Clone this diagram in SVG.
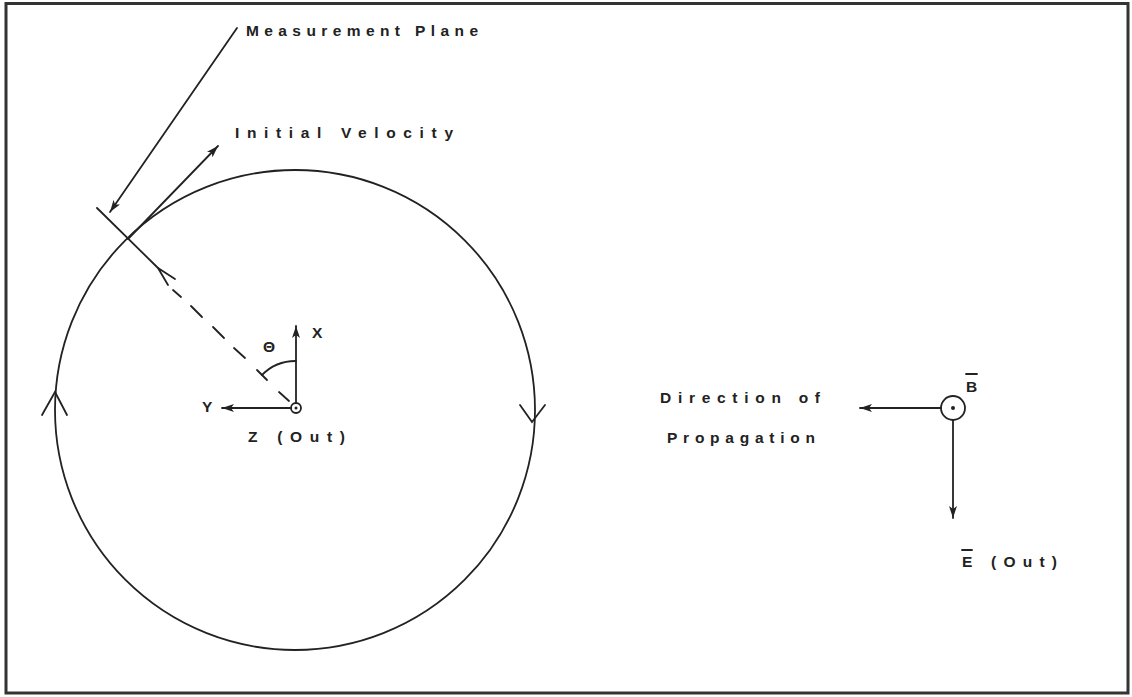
<svg xmlns="http://www.w3.org/2000/svg" width="1132" height="697" viewBox="0 0 1132 697">
<style>
.ln{stroke:#222;stroke-width:1.8;fill:none;stroke-linecap:round}
.t{font-family:"Liberation Sans",Arial,sans-serif;font-size:15.5px;font-weight:bold;fill:#222}
</style>
<defs>
<marker id="ah" viewBox="0 0 12 8" refX="12" refY="4" markerWidth="12" markerHeight="8" markerUnits="userSpaceOnUse" orient="auto">
<path d="M0,0 L12,4 L0,8 L3,4 Z" fill="#222"/>
</marker>
</defs>
<rect x="0" y="0" width="1132" height="697" fill="#fff"/>
<rect x="6" y="3.5" width="1122" height="689.5" fill="none" stroke="#333" stroke-width="3"/>

<g id="orbit">
<circle cx="295" cy="410" r="240" class="ln" stroke-width="2.2"/>
<path class="ln" d="M42,415 L55,392 L67,415"/>
<path class="ln" d="M520,405 L532,422 L545,405"/>
</g>

<g id="measurement-plane">
<line class="ln" x1="97" y1="208" x2="158" y2="268"/>
<path class="ln" d="M175,279 L158,268 L168,285"/>
<g class="ln">
<line x1="173" y1="290" x2="181" y2="297"/>
<line x1="191" y1="306" x2="202" y2="317"/>
<line x1="213" y1="327" x2="224" y2="338"/>
<line x1="234" y1="348" x2="245" y2="358"/>
<line x1="257" y1="370" x2="267" y2="380"/>
<line x1="279" y1="392" x2="289" y2="401"/>
</g>
<text class="t" x="246" y="36" textLength="232" lengthAdjust="spacing">Measurement Plane</text>
</g>

<g id="initial-velocity">
<text class="t" x="235" y="138" textLength="218" lengthAdjust="spacing">Initial Velocity</text>
</g>

<g id="axes">
<circle cx="296" cy="408" r="5" class="ln" stroke-width="1.6"/>
<circle cx="296" cy="408" r="1.5" fill="#222"/>
<path class="ln" d="M262,375 A47,47 0 0 1 296,361"/>
<text class="t" x="312" y="338">X</text>
<text class="t" x="263" y="352">Θ</text>
<text class="t" x="202" y="412">Y</text>
<text class="t" x="248" y="442" textLength="97" lengthAdjust="spacing">Z (Out)</text>
</g>

<g id="field">
<circle cx="953" cy="408" r="12" class="ln"/>
<circle cx="953" cy="408" r="2" fill="#222"/>
<text class="t" x="966" y="392">B</text>
<line class="ln" x1="966" y1="374" x2="977" y2="374" stroke-width="1.4"/>
<text class="t" x="962" y="567" textLength="95" lengthAdjust="spacing">E (Out)</text>
<line class="ln" x1="962" y1="550" x2="972" y2="550" stroke-width="1.4"/>
<text class="t" x="660" y="403" textLength="160" lengthAdjust="spacing">Direction of</text>
<text class="t" x="667" y="443" textLength="148" lengthAdjust="spacing">Propagation</text>
</g>

<g id="connectors">
<line class="ln" x1="237" y1="28" x2="110" y2="212" marker-end="url(#ah)"/>
<line class="ln" x1="128" y1="239" x2="218" y2="146" marker-end="url(#ah)"/>
<line class="ln" x1="296" y1="403" x2="296" y2="326" marker-end="url(#ah)"/>
<line class="ln" x1="291" y1="408" x2="222" y2="408" marker-end="url(#ah)"/>
<line class="ln" x1="941" y1="408" x2="860" y2="408" marker-end="url(#ah)"/>
<line class="ln" x1="953" y1="420" x2="953" y2="518" marker-end="url(#ah)"/>
</g>
</svg>
